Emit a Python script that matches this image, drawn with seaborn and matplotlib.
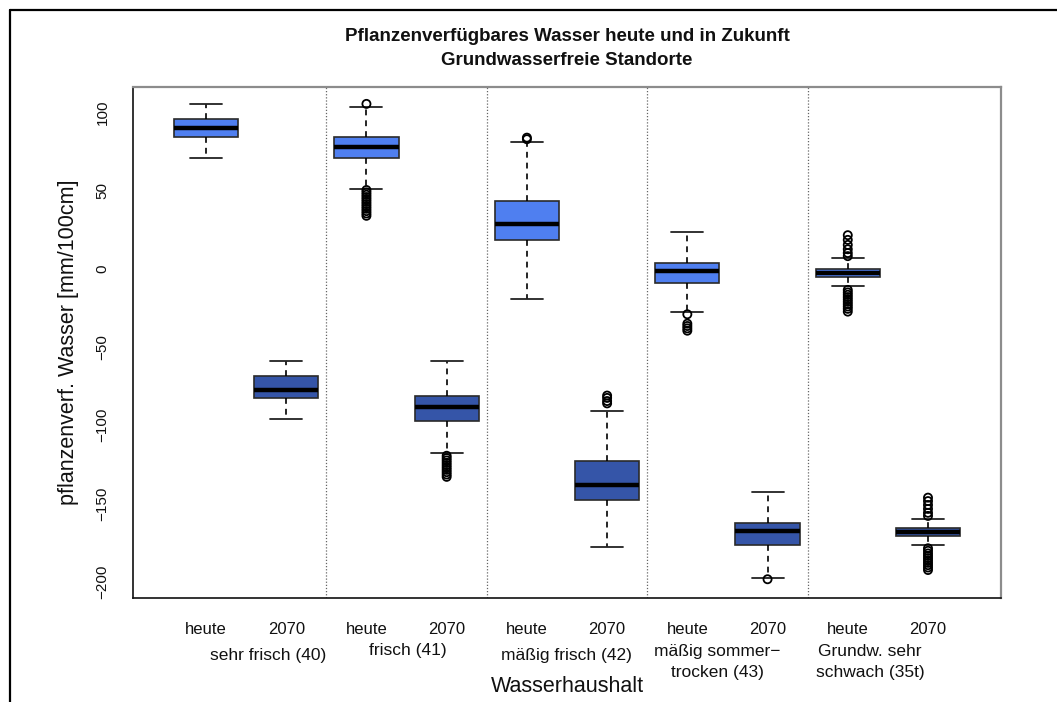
import matplotlib
matplotlib.use("Agg")
import matplotlib.pyplot as plt
from matplotlib.lines import Line2D
import numpy as np
import pandas as pd
import seaborn as sns

# ---- data: five soil-water classes, each today ("heute") and in 2070 ----
groups = ["sehr frisch (40)", "frisch (41)", "mäßig frisch (42)",
          "mäßig sommer−\ntrocken (43)", "Grundw. sehr\nschwach (35t)"]
periods = ["heute", "2070"]

# box statistics per box (order: group 1 heute, group 1 2070, group 2 heute, ...)
whisker_low = [71.2, -96.2, 51.4, -117.9, -19.0, -177.7, -27.7, -197.5, -11.1, -176.6]
quart_low = [84.5, -82.3, 71.0, -97.0, 18.4, -147.8, -9.2, -176.6, -5.3, -170.8]
medians = [90.4, -77.4, 78.3, -88.1, 28.8, -138.2, -1.3, -167.6, -2.3, -168.5]
quart_high = [96.0, -68.2, 84.5, -81.3, 43.5, -122.6, 4.0, -162.7, 0.0, -166.0]
whisker_high = [105.4, -58.9, 103.9, -58.6, 81.5, -90.9, 23.5, -142.5, 6.8, -160.0]

# outlying points per box
outliers = [
    [],
    [],
    [105.6, 50.5, 49.0, 47.5, 46.0, 44.5, 43.0, 41.5, 40.0, 38.5, 37.0, 35.5, 34.0],
    [-119.5, -121.0, -122.5, -124.0, -125.5, -127.0, -128.5, -130.0, -131.5, -133.0],
    [83.0, 84.0],
    [-81.0, -82.5, -84.5, -86.0],
    [-29.0, -35.0, -36.5, -38.0, -39.5],
    [-198.5],
    [21.6, 18.6, 15.4, 12.6, 10.2, 8.2,
     -13.4, -15.0, -16.5, -18.0, -19.5, -21.0, -22.5, -24.0, -25.5, -27.3],
    [-146.3, -148.5, -151.0, -153.5, -156.0, -158.0,
     -178.7, -180.3, -182.0, -183.5, -185.0, -186.5, -188.0, -189.5, -191.0, -192.6],
]

yticks = [100, 50, 0, -50, -100, -150, -200]

# ---- styling ----
sns.set_theme(style="white")
plt.rcParams["font.family"] = ["Liberation Sans", "DejaVu Sans"]

color_today = "#4f7ff0"
color_future = "#3555a8"

fig = plt.figure(figsize=(10.57, 7.02), dpi=100)
ax = fig.add_axes([133 / 1057, 1 - 598 / 702, (1001 - 133) / 1057, (598 - 87) / 702])

n_box = len(medians)
positions = np.arange(1, n_box + 1)

stats = []
for i in range(n_box):
    stats.append(dict(whislo=whisker_low[i], q1=quart_low[i], med=medians[i],
                      q3=quart_high[i], whishi=whisker_high[i], fliers=[]))

bp = ax.bxp(stats, positions=positions, widths=0.8, patch_artist=True,
            showfliers=False,
            boxprops=dict(edgecolor="#2a2a2a", linewidth=1.2),
            medianprops=dict(color="black", linewidth=3.2, solid_capstyle="butt"),
            whiskerprops=dict(color="black", linewidth=1.2, linestyle=(0, (3.5, 3))),
            capprops=dict(color="#222222", linewidth=1.3))
for i, patch in enumerate(bp["boxes"]):
    patch.set_facecolor(color_today if i % 2 == 0 else color_future)

# outliers as open circles
out_df = pd.DataFrame({
    "pos": np.concatenate([[positions[i]] * len(o) for i, o in enumerate(outliers)]),
    "value": np.concatenate([o for o in outliers]),
})
sns.scatterplot(data=out_df, x="pos", y="value", ax=ax, marker="o", s=34,
                facecolors="none", edgecolor="black", linewidth=1.3, zorder=4,
                legend=False)

# dotted separators between the classes
for sep in np.arange(2.5, n_box, 2):
    ax.axvline(sep, color="#666666", linestyle=(0, (1, 1.5)), linewidth=0.9, zorder=0)

ax.set_xlim(0.09, 10.91)
ax.set_ylim(-210.5, 116.4)

# axes frame: left/bottom dark, top/right grey
for side in ["left", "bottom"]:
    ax.spines[side].set_color("#111111")
    ax.spines[side].set_linewidth(1.2)
for side in ["top", "right"]:
    ax.spines[side].set_color("#8c8c8c")
    ax.spines[side].set_linewidth(1.6)

ax.set_yticks(yticks)
ax.set_yticklabels([str(v).replace("-", "−") for v in yticks], rotation=90, va="center")
ax.set_xticks(positions)
ax.set_xticklabels([periods[i % 2] for i in range(n_box)])
ax.tick_params(axis="both", which="major", direction="out", length=5, width=1,
               color="#111111", labelcolor="#111111")
ax.tick_params(axis="x", pad=12, labelsize=12)
ax.tick_params(axis="y", pad=12, labelsize=11)
ax.set_xlabel("")
ax.set_ylabel("pflanzenverf. Wasser [mm/100cm]", fontsize=15.5, color="#111111", labelpad=12)

# class labels below the period labels
group_x = [1.77, 3.51, 5.49, 7.37, 9.28]
group_y = [-0.112, -0.102, -0.112, -0.126, -0.126]
for gx, gy, name in zip(group_x, group_y, groups):
    ax.text(gx, gy, name, transform=ax.get_xaxis_transform(), ha="center", va="center",
            fontsize=12.5, color="#111111", linespacing=1.5)

ax.text(0.5, (598 - 687) / 511, "Wasserhaushalt", transform=ax.transAxes,
        ha="center", va="center", fontsize=15.5, color="#111111")

ax.text(0.5, (598 - 48.5) / 511,
        "Pflanzenverfügbares Wasser heute und in Zukunft\nGrundwasserfreie Standorte",
        transform=ax.transAxes, ha="center", va="center", fontsize=13.5,
        fontweight="bold", color="#111111", linespacing=1.55)

# outer frame lines
fig.add_artist(Line2D([9.5 / 1057, 9.5 / 1057], [0, 1 - 9.5 / 702],
                      transform=fig.transFigure, color="black", linewidth=1.6))
fig.add_artist(Line2D([9.5 / 1057, 1], [1 - 9.5 / 702, 1 - 9.5 / 702],
                      transform=fig.transFigure, color="black", linewidth=1.6))

fig.savefig("out.png", dpi=100)
